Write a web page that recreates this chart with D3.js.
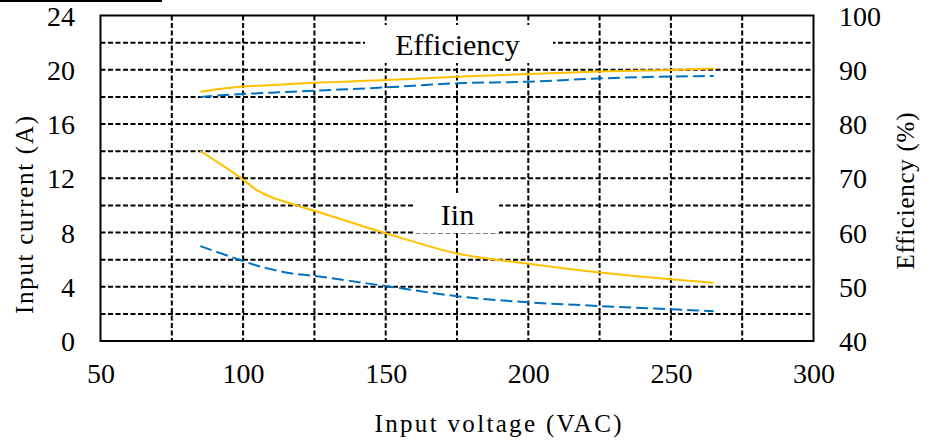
<!DOCTYPE html>
<html>
<head>
<meta charset="utf-8">
<script src="https://cdn.jsdelivr.net/npm/d3@7"></script>
<style>
  html, body { margin: 0; padding: 0; background: #fff; }
  svg { display: block; }
</style>
</head>
<body>
<svg id="chart" width="925" height="441"></svg>
<script>
// Input voltage sweep (VAC)
const voltage = [85, 100, 105, 110, 115, 125, 150, 175, 200, 225, 250, 265];
// Input current (A)
const iinSolid  = [14.0, 11.9, 11.1, 10.6, 10.25, 9.6, 7.95, 6.45, 5.7, 5.05, 4.55, 4.3];
const iinDashed = [7.0, 5.9, 5.55, 5.28, 5.05, 4.8, 4.05, 3.3, 2.85, 2.58, 2.34, 2.2];
// Efficiency (%)
const effSolid  = [85.95, 86.9, 87.04, 87.18, 87.32, 87.6, 88.1, 88.7, 89.2, 89.7, 89.95, 90.25];
const effDashed = [85.0, 85.53, 85.65, 85.77, 85.9, 86.14, 86.75, 87.5, 87.8, 88.4, 88.75, 88.85];

// Axis ticks
const xTicks = [50, 100, 150, 200, 250, 300];
const xGrid = [75, 100, 125, 150, 175, 200, 225, 250, 275];
const yLeftTicks = [0, 4, 8, 12, 16, 20, 24];
const yGrid = [2, 4, 6, 8, 10, 12, 14, 16, 18, 20, 22];
const yRightTicks = [40, 50, 60, 70, 80, 90, 100];

const serif = "'Liberation Serif', 'Times New Roman', serif";
const svg = d3.select("#chart").style("font-family", serif);
const plotL = 100.5, plotR = 813.5, plotT = 15.5, plotB = 341;

const x = d3.scaleLinear().domain([50, 300]).range([plotL, plotR]);
const yL = d3.scaleLinear().domain([0, 24]).range([plotB, plotT]);
const yR = d3.scaleLinear().domain([40, 100]).range([plotB, plotT]);

// stray rule at the top-left
svg.append("rect").attr("x", 0).attr("y", 0).attr("width", 162).attr("height", 2).attr("fill", "#000");

// dashed grid
const grid = svg.append("g").attr("stroke", "#000").attr("stroke-width", 2).attr("stroke-dasharray", "5,2.5");
grid.selectAll("line.h").data(yGrid).join("line").attr("class", "h")
  .attr("x1", plotL).attr("x2", plotR)
  .attr("y1", d => yL(d)).attr("y2", d => yL(d));
grid.selectAll("line.v").data(xGrid).join("line").attr("class", "v")
  .attr("x1", d => x(d)).attr("x2", d => x(d))
  .attr("y1", plotT).attr("y2", plotB);

// plot frame
svg.append("rect").attr("x", plotL).attr("y", plotT)
  .attr("width", plotR - plotL).attr("height", plotB - plotT)
  .attr("fill", "none").attr("stroke", "#000").attr("stroke-width", 2);

// axes (labels only)
const axisFont = 28;
function styleTicks(g) {
  g.select(".domain").remove();
  g.attr("font-family", null).attr("font-size", null);
  g.selectAll("text").style("font-family", serif).style("font-size", axisFont + "px").attr("fill", "#000");
}
const gx = svg.append("g").attr("transform", `translate(0,${plotB})`)
  .call(d3.axisBottom(x).tickValues(xTicks).tickSize(0).tickPadding(0).tickFormat(d3.format("d")));
styleTicks(gx);
gx.selectAll("text").attr("dy", null).attr("y", 42);

const gl = svg.append("g").attr("transform", `translate(${plotL},0)`)
  .call(d3.axisLeft(yL).tickValues(yLeftTicks).tickSize(0).tickPadding(0).tickFormat(d3.format("d")));
styleTicks(gl);
gl.selectAll("text").attr("x", -25.5).attr("dy", "0.34em");

const gr = svg.append("g").attr("transform", `translate(${plotR},0)`)
  .call(d3.axisRight(yR).tickValues(yRightTicks).tickSize(0).tickPadding(0).tickFormat(d3.format("d")));
styleTicks(gr);
gr.selectAll("text").attr("x", 25.5).attr("dy", "0.34em");

// axis titles
svg.append("text").attr("x", 498).attr("y", 432).attr("text-anchor", "middle")
  .style("font-size", "25px").attr("textLength", 247).attr("lengthAdjust", "spacing")
  .text("Input voltage (VAC)");
svg.append("text").attr("transform", "translate(33,215) rotate(-90)").attr("text-anchor", "middle")
  .style("font-size", "25px").attr("textLength", 198).attr("lengthAdjust", "spacing")
  .text("Input current (A)");
svg.append("text").attr("transform", "translate(914,191) rotate(-90)").attr("text-anchor", "middle")
  .style("font-size", "25px").attr("textLength", 157).attr("lengthAdjust", "spacing")
  .text("Efficiency (%)");

// in-plot labels on white boxes
svg.append("rect").attr("x", 365).attr("y", 25).attr("width", 188).attr("height", 38).attr("fill", "#fff");
svg.append("text").attr("x", 457.5).attr("y", 55).attr("text-anchor", "middle").style("font-size", "30px").text("Efficiency");
svg.append("rect").attr("x", 415).attr("y", 193).attr("width", 84).attr("height", 40).attr("fill", "#fff");
svg.append("text").attr("x", 457.5).attr("y", 225).attr("text-anchor", "middle").style("font-size", "30px").text("Iin");

// series
const lineL = vals => d3.line().x((d, i) => x(voltage[i])).y(d => yL(d)).curve(d3.curveMonotoneX)(vals);
const lineR = vals => d3.line().x((d, i) => x(voltage[i])).y(d => yR(d)).curve(d3.curveMonotoneX)(vals);
const orange = "#FFC000", blue = "#0070C0";

const series = [
  { path: lineR(effSolid),  color: orange, dash: null },
  { path: lineR(effDashed), color: blue,   dash: "12,5" },
  { path: lineL(iinSolid),  color: orange, dash: null },
  { path: lineL(iinDashed), color: blue,   dash: "12,5" }
];
svg.append("g").selectAll("path").data(series).join("path")
  .attr("d", d => d.path).attr("fill", "none")
  .attr("stroke", d => d.color).attr("stroke-width", 2)
  .attr("stroke-dasharray", d => d.dash);
</script>
</body>
</html>
